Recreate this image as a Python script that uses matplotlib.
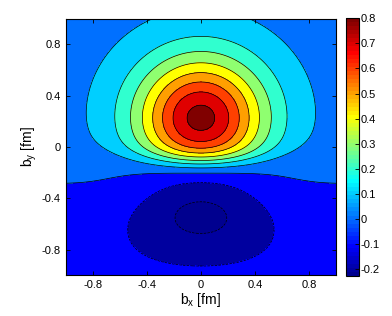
import numpy as np
import matplotlib
matplotlib.use("Agg")
import matplotlib.pyplot as plt
from matplotlib import colors as mcolors
from matplotlib.cm import ScalarMappable

plt.rcParams['font.family'] = ['Liberation Sans', 'DejaVu Sans']
plt.rcParams['mathtext.default'] = 'regular'

# ------------------------------------------------------------------
# field: positive lobe (cut off from below along
# a shallow bowl), negative lobe underneath and a weak overall step
# ------------------------------------------------------------------
pos_centre_y = 0.22
pos_amps = [0.53, 0.27]
pos_widths = [0.30, 0.47]

cut_y = -0.13
cut_curve = 0.14
cut_width = 0.048

neg_centre_y = -0.515
neg_amp = -0.197
neg_width_x = 0.37
neg_width_up = 0.225
neg_width_down = 0.27
neg_curve = 0.3

step_amp = 0.04
step_y = -0.285
step_width = 0.30

levels = [-0.2, -0.1, 0.0, 0.1, 0.2, 0.3, 0.4, 0.5, 0.6, 0.7, 0.8]
cbar_min, cbar_max = -0.227, 0.8
cbar_ticks = [-0.2, -0.1, 0.0, 0.1, 0.2, 0.3, 0.4, 0.5, 0.6, 0.7, 0.8]
axis_ticks = [-0.8, -0.4, 0.0, 0.4, 0.8]

bx = np.linspace(-1, 1, 301)
BX, BY = np.meshgrid(bx, bx)

# positive lobe
d2 = BX**2 + (BY - pos_centre_y)**2
lobe = sum(a * np.exp(-d2 / (2 * s**2)) for a, s in zip(pos_amps, pos_widths))
cut = 1 / (1 + np.exp(-(BY - cut_y - cut_curve * BX**2) / cut_width))
rho = lobe * cut

# negative lobe
dy = BY - neg_centre_y + neg_curve * BX**2
sy = np.where(dy > 0, neg_width_up, neg_width_down)
rho = rho + neg_amp * np.exp(-BX**2 / (2 * neg_width_x**2) - dy**2 / (2 * sy**2))

# overall step
rho = rho + step_amp * np.tanh((BY - step_y) / step_width)

# ------------------------------------------------------------------
# 64-entry jet like the old matlab default
def jet64(n=64):
    m = n // 4
    u = np.concatenate([np.arange(1, m + 1) / m, np.ones(m - 1), np.arange(m, 0, -1) / m])
    g = m // 2 + np.arange(1, len(u) + 1)
    r, b = g + m, g - m
    J = np.zeros((n, 3))
    J[r[r <= n] - 1, 0] = u[r <= n]
    J[g[g <= n] - 1, 1] = u[g <= n]
    J[b[b >= 1] - 1, 2] = u[b >= 1]
    return mcolors.ListedColormap(J)

cmap = jet64()

def level_colour(v):
    i = int((v - cbar_min) / (cbar_max - cbar_min) * cmap.N)
    return cmap(min(max(i, 0), cmap.N - 1))

fig = plt.figure(figsize=(3.92, 3.16), dpi=100)
ax = fig.add_axes([0.168, 0.129, 0.689, 0.812])
cax = fig.add_axes([0.883, 0.127, 0.034, 0.815])

bounds = [-1.0] + levels + [2.0]
band_cols = [level_colour(v) for v in [cbar_min] + levels]

ax.contourf(BX, BY, rho, levels=bounds, colors=band_cols)
ax.contour(BX, BY, rho, levels=levels, colors='k', linewidths=0.5)

ax.set_xlim(-1, 1)
ax.set_ylim(-1, 1)
ax.set_xticks(axis_ticks)
ax.set_yticks(axis_ticks)
ax.set_xticklabels(['%g' % t for t in axis_ticks])
ax.set_yticklabels(['%g' % t for t in axis_ticks])
ax.tick_params(direction='in', top=True, right=True, labelsize=8, length=3, width=0.6)
for sp in ax.spines.values():
    sp.set_linewidth(0.8)
ax.set_xlabel('b$_x$ [fm]', fontsize=10, labelpad=1)
ax.set_ylabel('b$_y$ [fm]', fontsize=10, labelpad=2)

norm = mcolors.Normalize(vmin=cbar_min, vmax=cbar_max)
sm = ScalarMappable(norm=norm, cmap=cmap)
cb = fig.colorbar(sm, cax=cax, ticks=cbar_ticks)
cb.ax.set_yticklabels(['%g' % t for t in cbar_ticks])
cb.ax.tick_params(direction='in', labelsize=8, length=3, width=0.6, pad=1)
cb.outline.set_linewidth(0.8)

fig.savefig('out.png', dpi=100)
